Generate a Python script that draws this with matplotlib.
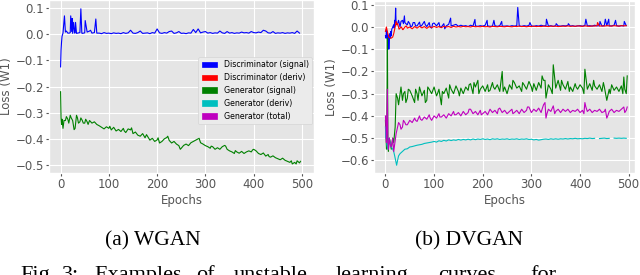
import numpy as np
import matplotlib
matplotlib.use("Agg")
import matplotlib.pyplot as plt
from matplotlib.patches import Patch

# ---- data (base points every 5 epochs + extra points) ----
STEP = 5

# (a) WGAN
wgan_disc = [
    -0.125, 0.004, 0.008, 0.004, 0.006, 0.003, 0.005, 0.004, 0.006, 0.003,
    0.005, 0.008, 0.012, 0.004, 0.006, 0.004, 0.004, 0.002, 0.006, 0.003,
    0.004, 0.002, 0.005, 0.003, 0.004, 0.002, 0.006, 0.003, 0.005, 0.015,
    0.004, 0.003, 0.006, 0.012, 0.003, 0.004, 0.005, 0.002, 0.006, 0.004,
    0.02, 0.005, 0.003, 0.006, 0.004, 0.01, 0.012, 0.003, 0.005, 0.01,
    0.003, 0.004, 0.002, 0.005, 0.004, 0.018, 0.006, 0.02, 0.005, 0.008,
    0.01, 0.004, 0.006, 0.003, 0.005, 0.004, 0.012, 0.005, 0.003, 0.01,
    0.004, 0.006, 0.003, 0.005, 0.004, 0.008, 0.005, 0.006, 0.004, 0.01,
    0.006, 0.005, 0.008, 0.006, 0.015, 0.012, 0.005, 0.004, 0.01, 0.003,
    0.005, 0.004, 0.006, 0.003, 0.005, 0.004, 0.006, 0.003, 0.012, 0.004,
]
wgan_disc_extra = {1: -0.06, 2: -0.03, 3: -0.008, 8: 0.07, 12: 0.012, 18: 0.004,
                   21: 0.07, 23: 0.01, 24: 0.06, 27: 0.045, 29: 0.004, 31: 0.045,
                   33: 0.003, 42: 0.097, 44: 0.004, 51: 0.052, 62: 0.015, 73: 0.058}

wgan_gen = [
    -0.22, -0.36, -0.33, -0.325, -0.31, -0.33, -0.36, -0.32, -0.335, -0.33,
    -0.34, -0.335, -0.33, -0.34, -0.335, -0.345, -0.35, -0.356, -0.362, -0.354,
    -0.36, -0.366, -0.356, -0.37, -0.364, -0.372, -0.36, -0.376, -0.362, -0.366,
    -0.38, -0.374, -0.386, -0.39, -0.38, -0.396, -0.39, -0.405, -0.398, -0.41,
    -0.404, -0.416, -0.41, -0.4, -0.395, -0.406, -0.416, -0.41, -0.42, -0.426,
    -0.436, -0.425, -0.42, -0.426, -0.415, -0.41, -0.405, -0.4, -0.415, -0.42,
    -0.426, -0.43, -0.436, -0.43, -0.44, -0.434, -0.44, -0.43, -0.425, -0.44,
    -0.446, -0.45, -0.456, -0.45, -0.455, -0.448, -0.456, -0.45, -0.446, -0.45,
    -0.44, -0.446, -0.456, -0.46, -0.454, -0.466, -0.46, -0.47, -0.465, -0.472,
    -0.476, -0.48, -0.474, -0.482, -0.486, -0.49, -0.496, -0.49, -0.484, -0.492,
]
wgan_gen_extra = {1: -0.32, 2: -0.345, 3: -0.325, 7: -0.33, 12: -0.315, 17: -0.34,
                  22: -0.32, 28: -0.365, 33: -0.31, 37: -0.34, 42: -0.32, 47: -0.34,
                  52: -0.325, 57: -0.345, 102: -0.352, 132: -0.37, 147: -0.358,
                  178: -0.384, 202: -0.396, 222: -0.39, 248: -0.44, 287: -0.398,
                  312: -0.428, 342: -0.428, 362: -0.445, 398: -0.442, 432: -0.468,
                  478: -0.484, 488: -0.496, 497: -0.486}

# (b) DVGAN
dv_disc = [
    -0.04, -0.08, -0.05, 0.0, 0.02, 0.015, 0.0, 0.03, 0.02, 0.01,
    0.015, 0.005, 0.02, 0.005, 0.022, 0.008, 0.025, 0.002, 0.02, -0.005,
    0.018, 0.005, 0.02, 0.0, 0.015, 0.005, 0.012, 0.005, 0.008, 0.012,
    0.003, 0.008, 0.004, 0.006, 0.002, 0.008, 0.004, 0.005, 0.003, 0.006,
    0.004, 0.008, 0.005, 0.003, 0.004, 0.006, 0.003, 0.006, 0.004, 0.004,
    0.005, 0.003, 0.006, 0.004, 0.006, 0.005, 0.003, 0.006, 0.004, 0.007,
    0.005, 0.003, 0.006, 0.004, 0.008, 0.005, 0.006, 0.004, 0.006, 0.003,
    0.006, 0.005, 0.004, 0.006, 0.005, 0.007, 0.004, 0.006, 0.003, 0.005,
    0.006, 0.004, 0.007, 0.005, 0.006, 0.004, 0.008, 0.005, 0.006, 0.004,
    0.007, 0.006, 0.005, 0.005, 0.008, 0.006, 0.004, 0.006, 0.005, 0.006,
]
dv_disc_extra = {1: -0.05, 2: -0.01, 3: -0.05, 4: -0.02, 6: -0.04, 7: -0.1, 8: -0.06,
                 9: -0.03, 11: -0.02, 12: -0.04, 13: -0.01, 17: 0.01, 18: -0.005,
                 19: 0.03, 21: 0.085, 22: 0.01, 27: 0.03, 32: 0.025, 37: 0.015,
                 39: 0.05, 42: 0.015, 47: 0.025, 52: 0.0, 57: 0.02, 62: 0.005,
                 72: 0.002, 82: 0.01, 92: 0.0, 97: 0.015, 112: 0.0, 122: -0.008,
                 134: 0.04, 184: 0.034, 209: 0.03, 223: 0.03, 239: 0.025, 272: 0.088,
                 297: 0.02, 331: 0.035, 351: 0.015, 376: 0.015, 412: 0.035,
                 441: 0.025, 452: 0.035, 459: 0.035, 473: 0.03, 491: 0.025}

dv_disc_deriv = [
    -0.02, -0.03, -0.05, -0.045, 0.0, 0.015, -0.005, -0.01, 0.0, -0.005,
    0.0, -0.008, 0.002, -0.005, 0.003, -0.004, 0.002, -0.006, 0.002, -0.003,
    0.003, -0.002, 0.002, -0.003, 0.003, 0.0, 0.002, -0.002, 0.003, 0.0,
    0.002, 0.0, 0.003, 0.001, 0.002, 0.0, 0.003, 0.001, 0.002, 0.001,
    0.003, 0.001, 0.002, 0.0, 0.003, 0.002, 0.001, 0.003, 0.002, 0.001,
    0.003, 0.002, 0.001, 0.003, 0.002, 0.004, 0.002, 0.003, 0.001, 0.003,
    0.002, 0.004, 0.002, 0.003, 0.002, 0.004, 0.003, 0.002, 0.004, 0.003,
    0.004, 0.002, 0.003, 0.004, 0.003, 0.005, 0.003, 0.004, 0.003, 0.005,
    0.004, 0.003, 0.005, 0.004, 0.003, 0.005, 0.004, 0.006, 0.004, 0.005,
    0.004, 0.006, 0.005, 0.004, 0.006, 0.005, 0.004, 0.006, 0.005, 0.006,
]
dv_disc_deriv_extra = {2: 0.0, 7: -0.045, 12: -0.05, 17: -0.03, 22: 0.025, 24: 0.01,
                       28: -0.01, 33: 0.0, 36: -0.012, 43: 0.005, 436: 0.02}

dv_gen = [
    -0.42, -0.5, -0.52, -0.5, -0.45, -0.32, -0.3, -0.33, -0.29, -0.32,
    -0.285, -0.31, -0.34, -0.3, -0.27, -0.31, -0.285, -0.33, -0.28, -0.3,
    -0.27, -0.31, -0.28, -0.35, -0.3, -0.275, -0.32, -0.28, -0.3, -0.265,
    -0.29, -0.275, -0.3, -0.27, -0.285, -0.255, -0.3, -0.27, -0.24, -0.28,
    -0.265, -0.29, -0.26, -0.285, -0.25, -0.28, -0.26, -0.29, -0.2, -0.27,
    -0.3, -0.26, -0.28, -0.25, -0.275, -0.265, -0.29, -0.26, -0.28, -0.245,
    -0.27, -0.255, -0.285, -0.25, -0.275, -0.24, -0.32, -0.26, -0.28, -0.17,
    -0.275, -0.24, -0.285, -0.26, -0.28, -0.245, -0.27, -0.29, -0.255, -0.28,
    -0.26, -0.275, -0.19, -0.28, -0.255, -0.285, -0.265, -0.28, -0.26, -0.29,
    -0.27, -0.33, -0.28, -0.26, -0.285, -0.27, -0.29, -0.265, -0.225, -0.3,
]
dv_gen_extra = {1: -0.48, 2: -0.55, 3: -0.45, 4: -0.05, 6: -0.56, 8: -0.5, 12: -0.55,
                17: -0.52, 22: -0.3, 27: -0.35, 32: -0.27, 37: -0.3, 42: -0.34,
                47: -0.28, 62: -0.28, 67: -0.33, 82: -0.34, 87: -0.27, 107: -0.3,
                117: -0.29, 132: -0.26, 152: -0.31, 172: -0.26, 182: -0.25,
                192: -0.3, 212: -0.29, 222: -0.27, 242: -0.29, 262: -0.24,
                282: -0.25, 302: -0.29, 322: -0.22, 328: -0.24, 343: -0.3,
                347: -0.21, 362: -0.24, 378: -0.29, 392: -0.27, 408: -0.3,
                428: -0.24, 448: -0.25, 462: -0.3, 488: -0.3, 492: -0.28, 497: -0.22}

dv_gen_deriv = [
    -0.45, -0.55, -0.52, -0.55, -0.59, -0.6, -0.57, -0.56, -0.55, -0.548,
    -0.54, -0.538, -0.535, -0.532, -0.53, -0.528, -0.524, -0.522, -0.52, -0.518,
    -0.515, -0.518, -0.512, -0.515, -0.51, -0.513, -0.508, -0.511, -0.508, -0.51,
    -0.506, -0.509, -0.506, -0.508, -0.505, -0.508, -0.504, -0.507, -0.504, -0.506,
    -0.503, -0.506, -0.504, -0.507, -0.503, -0.505, -0.503, -0.506, -0.504, -0.505,
    -0.503, -0.506, -0.504, -0.505, -0.503, -0.506, -0.504, -0.505, -0.503, -0.506,
    -0.505, -0.508, -0.506, -0.509, -0.507, -0.505, -0.504, -0.506, -0.503, -0.505,
    -0.503, -0.505, -0.503, -0.504, -0.502, -0.504, -0.502, -0.503, -0.501, -0.503,
    -0.502, -0.503, -0.501, -0.502, -0.5, -0.502, -0.501, np.nan, -0.502, -0.501,
    -0.5, -0.502, -0.501, np.nan, -0.5, -0.501, -0.5, -0.501, -0.5, -0.501,
]
dv_gen_deriv_extra = {1: -0.5, 2: -0.47, 3: -0.53, 7: -0.5, 12: -0.54, 17: -0.56,
                      23: -0.622, 27: -0.58}

dv_gen_total = [
    -0.4, -0.52, -0.53, -0.5, -0.51, -0.45, -0.44, -0.45, -0.43, -0.44,
    -0.42, -0.43, -0.41, -0.425, -0.4, -0.42, -0.405, -0.415, -0.395, -0.42,
    -0.4, -0.41, -0.39, -0.405, -0.395, -0.41, -0.39, -0.4, -0.38, -0.395,
    -0.385, -0.4, -0.38, -0.395, -0.385, -0.37, -0.39, -0.38, -0.395, -0.375,
    -0.39, -0.38, -0.395, -0.37, -0.385, -0.375, -0.39, -0.365, -0.385, -0.375,
    -0.39, -0.38, -0.37, -0.385, -0.375, -0.39, -0.37, -0.385, -0.375, -0.36,
    -0.385, -0.37, -0.38, -0.365, -0.385, -0.35, -0.41, -0.37, -0.38, -0.355,
    -0.38, -0.37, -0.385, -0.37, -0.38, -0.37, -0.385, -0.375, -0.38, -0.37,
    -0.385, -0.375, -0.34, -0.38, -0.37, -0.385, -0.375, -0.38, -0.37, -0.385,
    -0.38, -0.41, -0.38, -0.37, -0.385, -0.375, -0.38, -0.37, -0.36, -0.375,
]
dv_gen_total_extra = {1: -0.45, 2: -0.52, 3: -0.4, 4: -0.28, 6: -0.55, 8: -0.5,
                      12: -0.54, 17: -0.56, 22: -0.48, 27: -0.43, 32: -0.46,
                      37: -0.42, 42: -0.44, 62: -0.42, 72: -0.415, 92: -0.41,
                      112: -0.405, 142: -0.395, 172: -0.37, 197: -0.395, 232: -0.37,
                      262: -0.39, 292: -0.36, 322: -0.37, 328: -0.34, 332: -0.39,
                      348: -0.39, 408: -0.39, 412: -0.36, 452: -0.37, 457: -0.4,
                      492: -0.385, 497: -0.36}

legend_labels = ["Discriminator (signal)", "Discriminator (deriv)", "Generator (signal)",
                 "Generator (deriv)", "Generator (total)"]
legend_colors = ["b", "r", "g", "c", "m"]
x_ticks = [0, 100, 200, 300, 400, 500]
wgan_y_ticks = [-0.5, -0.4, -0.3, -0.2, -0.1, 0.0, 0.1]
dv_y_ticks = [-0.6, -0.5, -0.4, -0.3, -0.2, -0.1, 0.0, 0.1]

# bottom caption is justified in the source page, so words sit at their own x
caption_words = ["Fig.", "3:", "Examples", "of", "unstable", "learning", "curves", "for"]
caption_x = [20, 62, 94, 196, 234, 336, 438, 530]


def series(base, extra):
    x = np.concatenate([np.arange(len(base)) * STEP, list(extra.keys())])
    y = np.concatenate([base, list(extra.values())])
    order = np.argsort(x, kind="stable")
    return x[order], y[order]


plt.style.use("ggplot")
plt.rcParams["font.family"] = "DejaVu Sans"
plt.rcParams["xtick.labelsize"] = 8.5
plt.rcParams["ytick.labelsize"] = 8.5
plt.rcParams["axes.labelsize"] = 8.5
plt.rcParams["xtick.major.size"] = 2
plt.rcParams["ytick.major.size"] = 2
plt.rcParams["xtick.major.pad"] = 1.5
plt.rcParams["ytick.major.pad"] = 1.5

fig = plt.figure(figsize=(6.4, 2.75), dpi=100)
W, H = 640, 275
ax1 = fig.add_axes([49 / W, 1 - 173 / H, 265 / W, 173 / H])
ax2 = fig.add_axes([374 / W, 1 - 173 / H, 261 / W, 172 / H])

lw = 0.8
ax1.plot(*series(wgan_disc, wgan_disc_extra), color="b", lw=lw)
ax1.plot(*series(wgan_gen, wgan_gen_extra), color="g", lw=lw)
ax1.set_xlim(-24, 525)
ax1.set_ylim(-0.5306, 0.1306)
ax1.set_yticks(wgan_y_ticks)

ax2.plot(*series(dv_disc, dv_disc_extra), color="b", lw=lw)
ax2.plot(*series(dv_disc_deriv, dv_disc_deriv_extra), color="r", lw=lw)
ax2.plot(*series(dv_gen, dv_gen_extra), color="g", lw=lw)
ax2.plot(*series(dv_gen_deriv, dv_gen_deriv_extra), color="c", lw=lw)
ax2.plot(*series(dv_gen_total, dv_gen_total_extra), color="m", lw=lw)
ax2.set_xlim(-23.5, 513)
ax2.set_ylim(-0.657, 0.117)
ax2.set_yticks(dv_y_ticks)

for ax in (ax1, ax2):
    ax.set_xticks(x_ticks)
    ax.set_xlabel("Epochs", labelpad=2)
    ax.set_ylabel("Loss (W1)", labelpad=2)

handles = [Patch(color=c, label=l) for c, l in zip(legend_colors, legend_labels)]
ax1.legend(handles=handles, loc="upper right", bbox_to_anchor=(0.992, 0.671),
           borderaxespad=0, fontsize=5.7, facecolor="#EBEBEB", edgecolor="#D5D5D5",
           framealpha=1)

# sub-captions and the (cropped) figure caption below
fig.text(105 / W, 1 - 245 / H, "(a) WGAN", family="Liberation Serif", fontsize=15.5,
         ha="left", va="baseline")
fig.text(415 / W, 1 - 245 / H, "(b) DVGAN", family="Liberation Serif", fontsize=15.5,
         ha="left", va="baseline")
for word, x in zip(caption_words, caption_x):
    fig.text(x / W, 1 - 280 / H, word, family="Liberation Serif", fontsize=16,
             ha="left", va="baseline")

fig.savefig("out.png", dpi=100)
